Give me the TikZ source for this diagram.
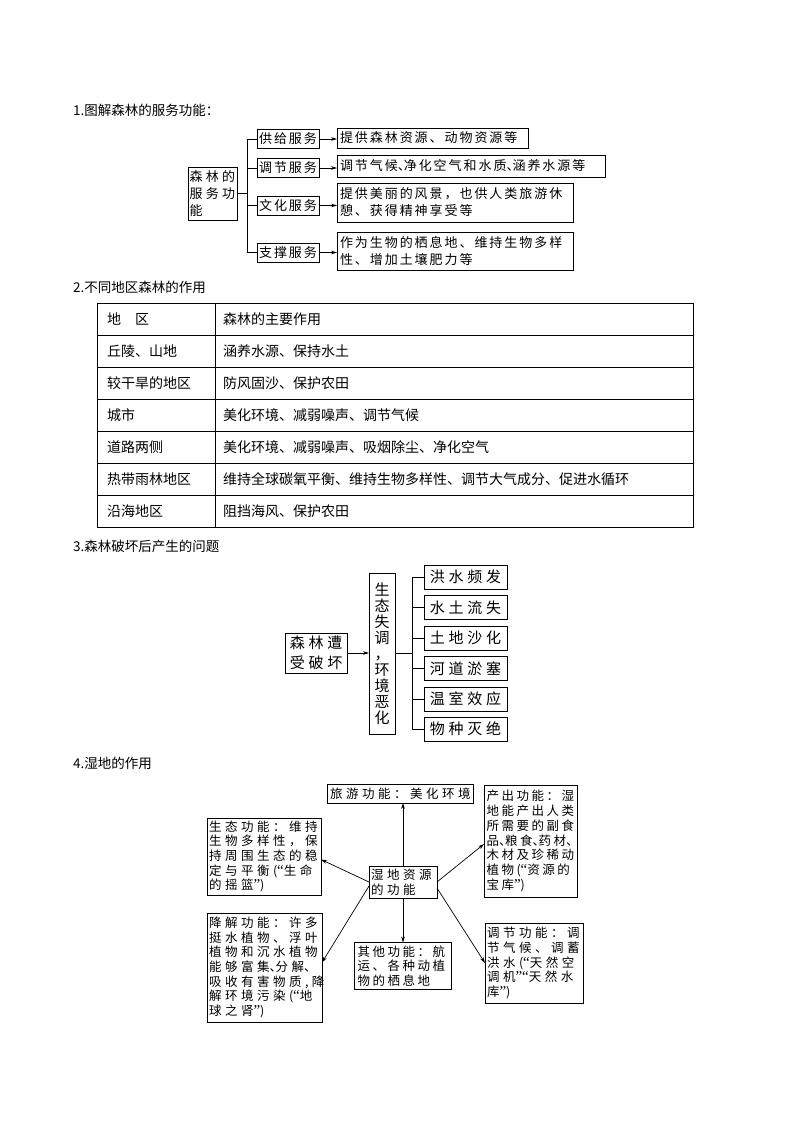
\documentclass[tikz,border=0pt]{standalone}
\usepackage{fontspec}
\usetikzlibrary{arrows.meta,calc}
\newfontfamily\cjn{Noto Sans CJK SC}
\newfontfamily\cjq[LetterSpace=15]{Noto Sans CJK SC}
\newfontfamily\cjs[LetterSpace=25]{Noto Sans CJK SC}
\newfontfamily\cjp[LetterSpace=20]{Noto Sans CJK SC}
\newfontfamily\cjw[LetterSpace=28]{Noto Sans CJK SC}
\newfontfamily\qf{Liberation Serif}
\newcommand\dn{\makebox[6pt][l]{、}}
\newcommand\qo{{\qf\fontsize{15pt}{14.7pt}\selectfont “}}
\newcommand\qc{{\qf\fontsize{15pt}{14.7pt}\selectfont ”}}
\begin{document}
\begin{tikzpicture}[x=1pt,y=-1pt,
  bx/.style={draw,line width=0.9pt,inner xsep=3pt,inner ysep=0pt,outer sep=0pt},
  arr/.style={-{Stealth[length=6pt,width=3.6pt]},line width=0.7pt},
  ln/.style={line width=0.7pt},
  tl/.style={line width=0.6pt},
  ttl/.style={anchor=west,inner sep=0pt,font=\cjn\fontsize{13.5pt}{16pt}\selectfont},
  tc/.style={anchor=west,inner sep=0pt,font=\cjn\fontsize{14pt}{16pt}\selectfont},
  fa/.style={font=\cjq\fontsize{13pt}{17pt}\selectfont},
  fr/.style={font=\cjs\fontsize{13pt}{17pt}\selectfont},
  fc/.style={font=\cjs\fontsize{15pt}{20pt}\selectfont},
  fw/.style={font=\cjw\fontsize{12.5pt}{14.7pt}\selectfont},
  fs/.style={font=\cjp\fontsize{12.5pt}{14.7pt}\selectfont}]
\useasboundingbox (0,0) rectangle (794,1123);
\fill[white] (0,0) rectangle (794,1123);

% ---------- Section 1 ----------
\node[ttl] (t1) at (73,110) {1.图解森林的服务功能：};
\node[bx,fr,inner xsep=1.5pt,text width=46pt,minimum height=53pt,align=left] (root) at (212.5,193.5) {森林的\\服务功\\能};
\node[bx,fa,inner xsep=1pt,text width=60pt,minimum height=19pt,align=center] (s1) at (288,139) {供给服务};
\node[bx,fa,inner xsep=1pt,text width=60pt,minimum height=19pt,align=center] (s2) at (288,168) {调节服务};
\node[bx,fa,inner xsep=1pt,text width=60pt,minimum height=19pt,align=center] (s3) at (288,205.5) {文化服务};
\node[bx,fa,inner xsep=1pt,text width=60pt,minimum height=19pt,align=center] (s4) at (288,252.5) {支撑服务};
\node[bx,fa,text width=185pt,minimum height=20pt,align=left,anchor=west] (r1) at (337,138) {提供森林资源、动物资源等};
\node[bx,fa,text width=262pt,minimum height=22pt,align=left,anchor=west] (r2) at (337,166) {调节气候\dn 净化空气和水质\dn 涵养水源等};
\node[bx,fa,text width=230pt,minimum height=39pt,align=left,anchor=west] (r3) at (337,202.5) {提供美丽的风景，也供人类旅游休\\憩、获得精神享受等};
\node[bx,fa,text width=230pt,minimum height=38pt,align=left,anchor=west] (r4) at (337,251) {作为生物的栖息地、维持生物多样\\性、增加土壤肥力等};
\coordinate (bj) at (247,193.5);
\draw[ln] (root.east) -- (bj);
\draw[ln] (s1.west) -- (s1.west -| bj) -- (s4.west -| bj) -- (s4.west);
\draw[ln] (s2.west) -- (s2.west -| bj);
\draw[ln] (s3.west) -- (s3.west -| bj);
\draw[arr] (s1.east) -- (s1.east -| r1.west);
\draw[arr] (s2.east) -- (s2.east -| r2.west);
\draw[arr] (s3.east) -- (s3.east -| r3.west);
\draw[arr] (s4.east) -- (s4.east -| r4.west);

% ---------- Section 2 ----------
\node[ttl] (t2) at (73,287) {2.不同地区森林的作用};
\draw[tl] (97,303) rectangle (693,527);
\draw[tl] (215,303) -- (215,527);
\foreach \yy in {335,367,399,431,463,495} \draw[tl] (97,\yy) -- (693,\yy);
\node[tc] (a0) at (107,319) {地\hspace{14pt}区};
\node[tc] (b0) at (223,319) {森林的主要作用};
\node[tc] (a1) at (107,351) {丘陵、山地};
\node[tc] (b1) at (223,351) {涵养水源、保持水土};
\node[tc] (a2) at (107,383) {较干旱的地区};
\node[tc] (b2) at (223,383) {防风固沙、保护农田};
\node[tc] (a3) at (107,415) {城市};
\node[tc] (b3) at (223,415) {美化环境、减弱噪声、调节气候};
\node[tc] (a4) at (107,447) {道路两侧};
\node[tc] (b4) at (223,447) {美化环境、减弱噪声、吸烟除尘、净化空气};
\node[tc] (a5) at (107,479) {热带雨林地区};
\node[tc] (b5) at (223,479) {维持全球碳氧平衡、维持生物多样性、调节大气成分、促进水循环};
\node[tc] (a6) at (107,511) {沿海地区};
\node[tc] (b6) at (223,511) {阻挡海风、保护农田};

% ---------- Section 3 ----------
\node[ttl] (t3) at (73,546) {3.森林破坏后产生的问题};
\node[bx,fc,text width=56pt,minimum height=40pt,align=center] (ca) at (316,653) {森林遭\\受破坏};
\node[bx,font=\cjn\fontsize{15pt}{16pt}\selectfont,text width=20pt,minimum height=161pt,align=center] (cb) at (382,653.5) {生\\态\\失\\调\\，\\环\\境\\恶\\化};
\node[bx,fc,text width=77pt,minimum height=24pt,align=center] (d1) at (465.5,577) {洪水频发};
\node[bx,fc,text width=77pt,minimum height=24pt,align=center] (d2) at (465.5,607.5) {水土流失};
\node[bx,fc,text width=77pt,minimum height=24pt,align=center] (d3) at (465.5,638) {土地沙化};
\node[bx,fc,text width=77pt,minimum height=24pt,align=center] (d4) at (465.5,668.5) {河道淤塞};
\node[bx,fc,text width=77pt,minimum height=24pt,align=center] (d5) at (465.5,699) {温室效应};
\node[bx,fc,text width=77pt,minimum height=24pt,align=center] (d6) at (465.5,729) {物种灭绝};
\coordinate (cj) at (412,653.5);
\draw[arr] (ca.east) -- (ca.east -| cb.west);
\draw[ln] (cb.east) -- (cj);
\draw[ln] (d1.west) -- (d1.west -| cj) -- (d6.west -| cj) -- (d6.west);
\draw[ln] (d2.west) -- (d2.west -| cj);
\draw[ln] (d3.west) -- (d3.west -| cj);
\draw[ln] (d4.west) -- (d4.west -| cj);
\draw[ln] (d5.west) -- (d5.west -| cj);

% ---------- Section 4 ----------
\node[ttl] (t4) at (73,763) {4.湿地的作用};
\node[bx,fw,text width=140pt,minimum height=19pt,align=center] (tour) at (400,793.5) {旅游功能：美化环境};
\node[bx,fw,inner xsep=2pt,text width=64pt,minimum height=32pt,align=left] (cen) at (403,882) {湿地资源\\的功能};
\node[bx,fw,inner xsep=2pt,text width=110pt,minimum height=77pt,align=left] (eco) at (264,856.5) {生态功能：维持\\生物多样性，保\\持周围生态的稳\\定与平衡(\qo 生命\\的摇篮\qc)};
\node[bx,fs,inner xsep=2.5pt,text width=88pt,minimum height=112pt,align=left] (pro) at (530.5,841) {产出功能：湿\\地能产出人类\\所需要的副食\\品\dn 粮食\dn 药材\dn\\木材及珍稀动\\植物(\qo 资源的\\宝库\qc)};
\node[bx,fw,inner xsep=2pt,text width=111pt,minimum height=109pt,align=left] (deg) at (264.5,967.5) {降解功能：许多\\挺水植物、浮叶\\植物和沉水植物\\能够富集\dn 分解\dn\\吸收有害物质,降\\解环境污染(\qo 地\\球之肾\qc)};
\node[bx,fs,inner xsep=3pt,text width=91pt,minimum height=47pt,align=left] (oth) at (403,966) {其他功能：航\\运、各种动植\\物的栖息地};
\node[bx,fw,inner xsep=2pt,text width=94pt,minimum height=80pt,align=left] (reg) at (534,963) {调节功能：调\\节气候、调蓄\\洪水(\qo 天然空\\调机\qc\qo 天然水\\库\qc)};
\draw[arr] (cen.north) -- (cen.north |- tour.south);
\draw[arr] (cen.west) -- ($(eco.east)+(0,3)$);
\draw[arr] (cen.east) -- ($(pro.west)+(0,3)$);
\draw[arr] ($(cen.west)+(0,4)$) -- ($(deg.east)+(0,-5)$);
\draw[arr] (cen.south) -- (cen.south |- oth.north);
\draw[arr] ($(cen.east)+(0,6)$) -- (reg.west);
\end{tikzpicture}
\end{document}
